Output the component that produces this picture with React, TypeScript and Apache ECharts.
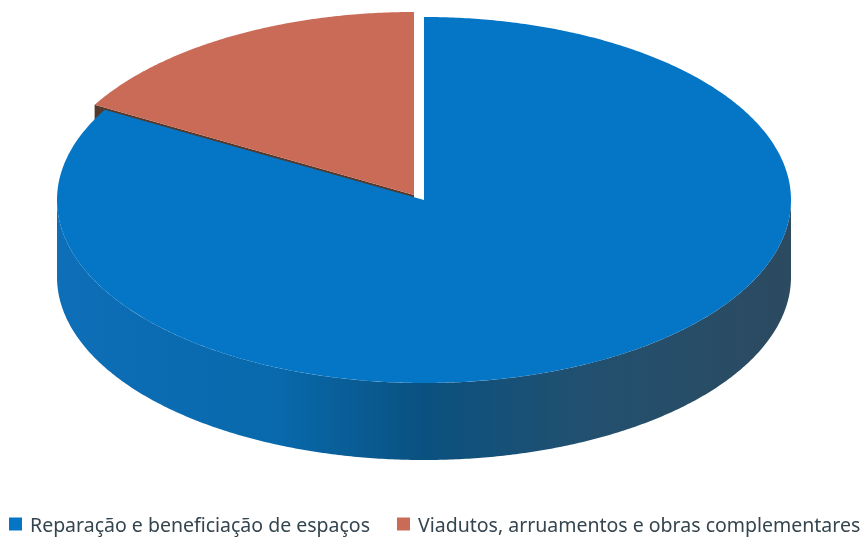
import React, { useEffect, useRef } from "react";
import * as echarts from "echarts";

const categories = ["Reparação e beneficiação de espaços", "Viadutos, arruamentos e obras complementares"];
const shareValues = [83.2, 16.8];
const topColors = ["#0576C5", "#C96B57"];
const wallStops = [
  { offset: 0, color: "#0E6EB7" },
  { offset: 0.3, color: "#0869AC" },
  { offset: 0.5, color: "#0A5180" },
  { offset: 0.72, color: "#22506F" },
  { offset: 1, color: "#2C4A60" },
];

const CX = 424, CY = 200, RX = 367, RY = 183, DEPTH = 77;
const OFFSET_X = -10, OFFSET_Y = -5;

const total = shareValues[0] + shareValues[1];
const pt = (deg: number, cx: number, cy: number) => {
  const a = (deg * Math.PI) / 180;
  return [cx + RX * Math.sin(a), cy - RY * Math.cos(a)];
};
const arc = (from: number, to: number, cx: number, cy: number) => {
  const out: number[][] = [];
  const n = Math.max(2, Math.ceil(Math.abs(to - from) * 2));
  for (let i = 0; i <= n; i++) out.push(pt(from + ((to - from) * i) / n, cx, cy));
  return out;
};

const renderBlue = (_p: any, api: any) => {
  const end = (api.value(0) / total) * 360;
  const wall = [...arc(90, 270, CX, CY), ...arc(270, 90, CX, CY + DEPTH)];
  const top = [[CX, CY], ...arc(0, end, CX, CY)];
  return {
    type: "group",
    children: [
      {
        type: "polygon",
        shape: { points: wall },
        style: { fill: new echarts.graphic.LinearGradient(0, 0, 1, 0, wallStops) },
      },
      { type: "polygon", shape: { points: top }, style: { fill: topColors[0] } },
    ],
  };
};

const renderRed = (_p: any, api: any) => {
  const span = (api.value(0) / total) * 360;
  const start = 360 - span;
  const cx = CX + OFFSET_X, cy = CY + OFFSET_Y;
  const a = pt(start, cx, cy);
  const wall = [[cx, cy], a, [a[0], a[1] + DEPTH], [cx, cy + DEPTH]];
  const top = [[cx, cy], ...arc(start, 360, cx, cy)];
  return {
    type: "group",
    children: [
      { type: "polygon", shape: { points: wall }, style: { fill: "#54392C" } },
      { type: "polygon", shape: { points: top }, style: { fill: topColors[1] } },
    ],
  };
};

export default function App() {
  const ref = useRef<HTMLDivElement>(null);
  useEffect(() => {
    document.body.style.margin = "0";
    const chart = echarts.init(ref.current!, undefined, { renderer: "svg" });
    chart.setOption({
      animation: false,
      backgroundColor: "#ffffff",
      legend: {
        left: 9,
        top: 514,
        padding: 0,
        icon: "rect",
        itemWidth: 13,
        itemHeight: 13,
        itemGap: 27,
        data: categories,
        textStyle: { fontFamily: "Noto Sans", fontSize: 19.5, color: "#34454F", padding: [0, 0, 0, 3] },
      },
      series: [
        {
          type: "custom",
          name: categories[0],
          coordinateSystem: "none",
          z: 3,
          data: [[shareValues[0]]],
          itemStyle: { color: topColors[0] },
          renderItem: renderBlue,
        },
        {
          type: "custom",
          name: categories[1],
          coordinateSystem: "none",
          z: 2,
          data: [[shareValues[1]]],
          itemStyle: { color: topColors[1] },
          renderItem: renderRed,
        },
      ],
    });
    return () => chart.dispose();
  }, []);
  return <div ref={ref} style={{ width: 861, height: 538, filter: "blur(0.5px)" }} />;
}
